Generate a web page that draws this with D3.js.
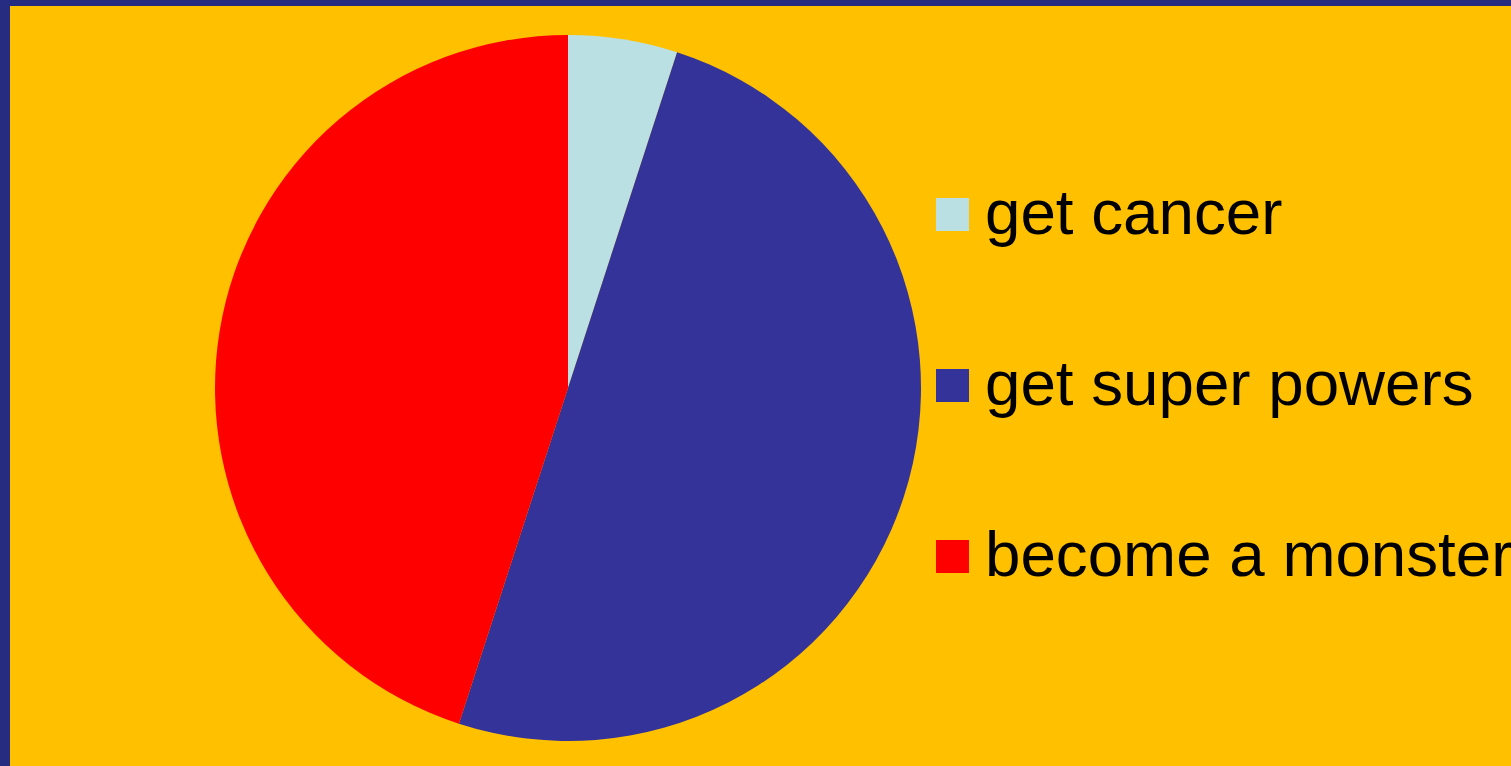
<!DOCTYPE html>
<html>
<head>
<meta charset="utf-8">
<script src="https://cdn.jsdelivr.net/npm/d3@7"></script>
<style>
  html, body { margin: 0; padding: 0; background: #262D80; }
  svg { display: block; }
</style>
</head>
<body>
<svg id="chart" width="1511" height="766"></svg>
<script>
// Outcomes and their shares
const categories = ["get cancer", "get super powers", "become a monster"];
const values = [5, 50, 45];
const colors = ["#BBE0E3", "#333399", "#FF0000"];

const W = 1511, H = 766;
const svg = d3.select("#chart");

// frame: dark blue edge on top and left, gold panel
svg.append("rect").attr("width", W).attr("height", H).attr("fill", "#262D80");
svg.append("rect").attr("x", 10).attr("y", 6).attr("width", W - 10).attr("height", H - 6).attr("fill", "#FFC000");

const cx = 568, cy = 388, r = 353;

const pie = d3.pie().sort(null).value(d => d.value);
const arc = d3.arc().innerRadius(0).outerRadius(r);
const data = categories.map((c, i) => ({ name: c, value: values[i], color: colors[i] }));

const g = svg.append("g").attr("transform", `translate(${cx},${cy})`);
g.selectAll("path")
  .data(pie(data))
  .join("path")
  .attr("d", arc)
  .attr("fill", d => d.data.color);

// legend
const legendY = d3.scalePoint().domain(categories).range([215, 557]);
const leg = svg.append("g");
const item = leg.selectAll("g").data(data).join("g")
  .attr("transform", d => `translate(936,${legendY(d.name)})`);
item.append("rect")
  .attr("x", 0).attr("y", -17).attr("width", 33).attr("height", 33)
  .attr("fill", d => d.color);
item.append("text")
  .attr("x", 49).attr("y", 19)
  .attr("font-family", "Liberation Sans, Arial, sans-serif")
  .attr("font-size", 63.7)
  .attr("fill", "#000")
  .text(d => d.name);
</script>
</body>
</html>
